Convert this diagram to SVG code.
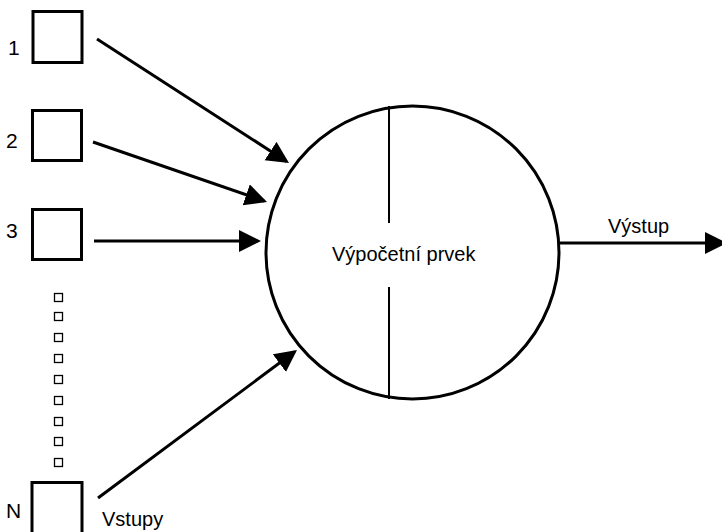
<svg xmlns="http://www.w3.org/2000/svg" width="722" height="532" viewBox="0 0 722 532">
<style>
.box{fill:#fff;stroke:#000;stroke-width:3}
.dot{fill:#fff;stroke:#000;stroke-width:1.3}
.lbl{font-family:"Liberation Sans",Arial,sans-serif;font-size:20px;fill:#000}
.num{font-size:21px}
.conn{stroke:#000;stroke-width:3;fill:none;marker-end:url(#ah)}
</style>
<defs>
<marker id="ah" markerUnits="userSpaceOnUse" markerWidth="24" markerHeight="24" refX="19" refY="11" orient="auto">
<path d="M0,0 L22,11 L0,22 Z" fill="#000"/>
</marker>
</defs>
<rect width="722" height="532" fill="#fff"/>
<g id="in1"><rect class="box" x="33" y="11.5" width="49" height="51"/><text class="lbl num" x="8" y="55">1</text></g>
<g id="in2"><rect class="box" x="32.5" y="110.5" width="49" height="50"/><text class="lbl num" x="6" y="148">2</text></g>
<g id="in3"><rect class="box" x="32.5" y="209.5" width="49" height="50"/><text class="lbl num" x="6" y="238">3</text></g>
<g id="dots">
<rect class="dot" x="54.5" y="293.5" width="8" height="8"/>
<rect class="dot" x="54.5" y="312.5" width="8" height="8"/>
<rect class="dot" x="54.5" y="333.5" width="8" height="8"/>
<rect class="dot" x="54.5" y="354.5" width="8" height="8"/>
<rect class="dot" x="54.5" y="375.5" width="8" height="8"/>
<rect class="dot" x="54.5" y="396.5" width="8" height="8"/>
<rect class="dot" x="54.5" y="417.5" width="8" height="8"/>
<rect class="dot" x="54.5" y="437.5" width="8" height="8"/>
<rect class="dot" x="54.5" y="458.5" width="8" height="8"/>
</g>
<g id="inN"><rect class="box" x="32" y="482.5" width="50" height="60"/><text class="lbl num" x="6" y="518">N</text></g>
<text id="vstupy" class="lbl" x="102" y="526">Vstupy</text>
<g id="neuron">
<circle cx="412.5" cy="252.5" r="146.5" fill="#fff" stroke="#000" stroke-width="3"/>
<line x1="389" y1="106" x2="389" y2="223" stroke="#000" stroke-width="2"/>
<line x1="389" y1="287" x2="389" y2="399" stroke="#000" stroke-width="2"/>
<text class="lbl" x="332" y="261" font-size="20.6">Výpočetní prvek</text>
</g>
<g id="connectors">
<line class="conn" x1="97" y1="39" x2="286.5" y2="161.4"/>
<line class="conn" x1="93" y1="142" x2="264.2" y2="201"/>
<line class="conn" x1="94" y1="241" x2="258" y2="241"/>
<line class="conn" x1="98" y1="498" x2="294.6" y2="351.8"/>
<line class="conn" x1="559" y1="243" x2="724" y2="243"/>
</g>
<text id="vystup" class="lbl" x="608" y="233">Výstup</text>
</svg>
